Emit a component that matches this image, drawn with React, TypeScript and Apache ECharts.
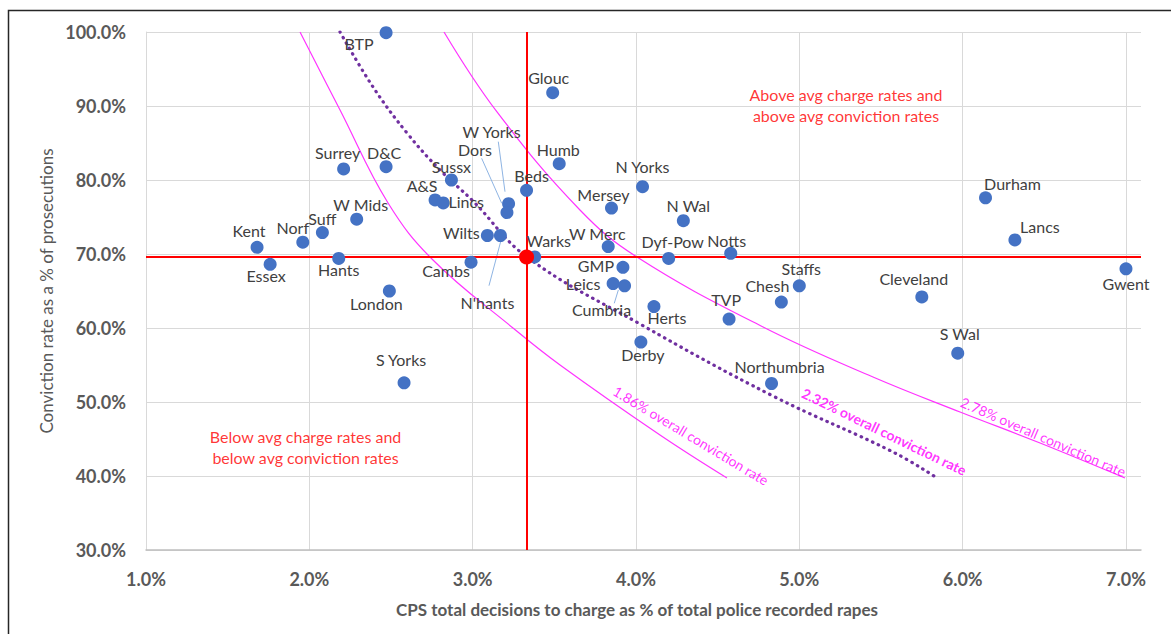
import { useEffect, useRef } from 'react';
import * as echarts from 'echarts';

// ---- Data ----
const forces = ['BTP', 'Glouc', 'Humb', 'Surrey', 'D&C', 'Sussx', 'N Yorks', 'Durham', 'Beds', 'A&S', 'Lincs', 'W Yorks', 'Dors', 'Mersey', 'N Wal', 'W Mids', 'Suff', 'Norf', 'Kent', 'Essex', 'Hants', 'London', 'Wilts', "N'hants", 'Cambs', 'Warks', 'Lancs', 'Gwent', 'Cleveland', 'S Wal', 'W Merc', 'Dyf-Pow', 'Notts', 'GMP', 'Leics', 'Cumbria', 'Herts', 'Staffs', 'Chesh', 'TVP', 'Derby', 'Northumbria', 'S Yorks'];
const chargeRate = [2.47, 3.49, 3.53, 2.21, 2.47, 2.87, 4.04, 6.14, 3.33, 2.77, 2.82, 3.22, 3.21, 3.85, 4.29, 2.29, 2.08, 1.96, 1.68, 1.76, 2.18, 2.49, 3.09, 3.17, 2.99, 3.38, 6.32, 7.0, 5.75, 5.97, 3.83, 4.20, 4.58, 3.92, 3.86, 3.93, 4.11, 5.0, 4.89, 4.57, 4.03, 4.83, 2.58];
const convictionRate = [99.9, 91.8, 82.2, 81.5, 81.8, 80.0, 79.1, 77.6, 78.6, 77.3, 76.9, 76.8, 75.6, 76.2, 74.5, 74.7, 72.9, 71.6, 70.9, 68.6, 69.4, 65.0, 72.5, 72.5, 68.9, 69.6, 71.9, 68.0, 64.2, 56.6, 71.0, 69.4, 70.1, 68.2, 66.0, 65.7, 62.9, 65.7, 63.5, 61.2, 58.1, 52.5, 52.6];

const avgCharge = 3.33;
const avgConviction = 69.6;

const curve186X = [1.943, 2.188, 2.482, 2.757, 3.247, 3.535, 4.147, 4.557];
const curve186Y = [100, 89.46, 76.89, 69.19, 60.0, 55.0, 45.54, 39.73];

const curve232X = [2.188, 2.39, 2.598, 2.8, 3.002, 3.333, 4.025, 4.839, 5.574, 5.843];
const curve232Y = [100, 92.57, 86.35, 81.35, 77.16, 69.59, 60.54, 50.81, 43.24, 39.73];

const curve278X = [2.8245, 3.149, 3.657, 4.006, 4.778, 5.451, 5.984, 6.474, 6.994];
const curve278Y = [100, 89.2, 75.95, 69.59, 60.14, 53.38, 48.65, 44.46, 39.73];

const xTicks = [1, 2, 3, 4, 5, 6, 7];
const yTicks = [30, 40, 50, 60, 70, 80, 90, 100];

const xTitle = 'CPS total decisions to charge as % of total police recorded rapes';
const yTitle = 'Conviction rate as a % of prosecutions';

// leader lines (label -> point), in data coordinates
const leaderLines: Record<string, number[][]> = {
  'W Yorks': [[3.157, 85.18], [3.198, 78.42]],
  Dors: [[3.055, 82.93], [3.178, 76.85]],
  "N'hants": [[3.174, 71.89], [3.1, 65.72]],
  Cumbria: [[3.892, 65.14], [3.867, 63.34]],
};

// ---- Layout / styling (label offsets in px from the point) ----
const labelOffsets: Record<string, number[]> = {
  BTP: [-27, 11], Glouc: [-4, -15], Humb: [-1, -14], Surrey: [-6, -16], 'D&C': [-2, -14],
  Sussx: [0, -14], 'N Yorks': [0, -20], Durham: [27, -14], Beds: [5, -15], 'A&S': [-13, -14],
  Lincs: [23, -1], 'W Yorks': [-17, -72], Dors: [-32, -63], Mersey: [-8, -14], 'N Wal': [5, -15],
  'W Mids': [4, -15], Suff: [0, -14], Norf: [-10, -15], Kent: [-8, -17], Essex: [-4, 11],
  Hants: [0, 11], London: [-13, 12], Wilts: [-26, -3], "N'hants": [-13, 67], Cambs: [-25, 8],
  Warks: [14, -16], Lancs: [25, -13], Gwent: [0, 15], Cleveland: [-8, -18], 'S Wal': [2, -20],
  'W Merc': [-11, -13], 'Dyf-Pow': [4, -17], Notts: [-4, -13], GMP: [-27, -2], Leics: [-30, 0],
  Cumbria: [-23, 24], Herts: [13, 11], Staffs: [2, -17], Chesh: [-14, -17], TVP: [-3, -20],
  Derby: [2, 12], Northumbria: [8, -17], 'S Yorks': [-3, -23],
};

const annotations = [
  { text: 'Above avg charge rates and\nabove avg conviction rates', at: [5.286, 90.07], rotate: 0, size: 16, weight: 'normal', color: '#ff0000' },
  { text: 'Below avg charge rates and\nbelow avg conviction rates', at: [1.977, 43.92], rotate: 0, size: 16, weight: 'normal', color: '#ff0000' },
  { text: '1.86% overall conviction rate', at: [4.337, 45.47], rotate: -31, size: 14, weight: 'normal', color: '#ff00ff' },
  { text: '2.32% overall conviction rate', at: [5.52, 46.0], rotate: -26, size: 14, weight: 'bold', color: '#ff00ff' },
  { text: '2.78% overall conviction rate', at: [6.494, 45.31], rotate: -23.5, size: 14, weight: 'normal', color: '#ff00ff' },
];

const FONT = 'Lato, "Noto Sans", sans-serif';

export default function App() {
  const ref = useRef<HTMLDivElement>(null);

  useEffect(() => {
    if (!ref.current) return;
    const chart = echarts.init(ref.current, undefined, { renderer: 'svg' });

    const pair = (xs: number[], ys: number[]) => xs.map((x, i) => [x, ys[i]]);

    const option: any = {
      animation: false,
      backgroundColor: '#ffffff',
      textStyle: { fontFamily: FONT },
      grid: { left: 146, right: 30, top: 32, bottom: 84 },
      xAxis: {
        type: 'value',
        min: xTicks[0],
        max: 7.092,
        interval: 1,
        axisLine: { show: true, lineStyle: { color: '#bfbfbf', width: 1.5 } },
        axisTick: { show: false },
        splitLine: { show: true, showMaxLine: false, lineStyle: { color: '#d9d9d9', width: 1 } },
        axisLabel: {
          margin: 20,
          color: '#595959',
          fontSize: 18,
          fontWeight: 'bold',
          fontFamily: FONT,
          formatter: (v: number) => (xTicks.some((t) => Math.abs(t - v) < 1e-6) ? v.toFixed(1) + '%' : ''),
        },
      },
      yAxis: {
        type: 'value',
        min: yTicks[0],
        max: yTicks[yTicks.length - 1],
        interval: 10,
        axisLine: { show: true, lineStyle: { color: '#d9d9d9', width: 1 } },
        axisTick: { show: false },
        splitLine: { show: true, lineStyle: { color: '#d9d9d9', width: 1 } },
        axisLabel: {
          margin: 20,
          color: '#595959',
          fontSize: 18,
          fontWeight: 'bold',
          fontFamily: FONT,
          formatter: (v: number) => v.toFixed(1) + '%',
        },
      },
      graphic: [
        {
          type: 'polyline',
          silent: true,
          shape: { points: [[8.5, 634], [8.5, 10.5], [1171, 10.5]] },
          style: { stroke: '#262626', lineWidth: 1.5, fill: null },
        },
        {
          type: 'text',
          x: 637,
          y: 609,
          silent: true,
          style: { text: xTitle, font: `bold 17px ${FONT}`, fill: '#595959', align: 'center', verticalAlign: 'middle', textAlign: 'center', textVerticalAlign: 'middle' },
        },
        {
          type: 'text',
          x: 46,
          y: 291,
          rotation: Math.PI / 2,
          silent: true,
          style: { text: yTitle, font: `17px ${FONT}`, fill: '#595959', align: 'center', verticalAlign: 'middle', textAlign: 'center', textVerticalAlign: 'middle' },
        },
      ],
      series: [
        {
          type: 'line',
          name: '1.86',
          data: pair(curve186X, curve186Y),
          smooth: 0.4,
          showSymbol: false,
          silent: true,
          lineStyle: { color: '#ff33ff', width: 1.2 },
          z: 2,
        },
        {
          type: 'line',
          name: '2.78',
          data: pair(curve278X, curve278Y),
          smooth: 0.4,
          showSymbol: false,
          silent: true,
          lineStyle: { color: '#ff33ff', width: 1.2 },
          z: 2,
        },
        {
          type: 'line',
          name: '2.32',
          data: pair(curve232X, curve232Y),
          smooth: 0.4,
          showSymbol: false,
          silent: true,
          lineStyle: { color: '#7030a0', width: 3.2, type: [0.5, 5.8], cap: 'round' },
          z: 2,
        },
        ...Object.keys(leaderLines).map((k) => ({
          type: 'line',
          name: 'leader-' + k,
          data: leaderLines[k],
          showSymbol: false,
          silent: true,
          lineStyle: { color: '#8eb4e3', width: 1 },
          z: 3,
        })),
        {
          type: 'scatter',
          name: 'avg lines',
          data: [],
          silent: true,
          markLine: {
            silent: true,
            symbol: ['none', 'none'],
            label: { show: false },
            lineStyle: { color: '#ff0000', width: 2, type: 'solid' },
            data: [{ xAxis: avgCharge }, { yAxis: avgConviction }],
          },
          z: 4,
        },
        {
          type: 'scatter',
          name: 'forces',
          symbol: 'circle',
          symbolSize: 13,
          itemStyle: { color: '#4472c4', opacity: 1 },
          label: {
            show: true,
            position: 'inside',
            formatter: '{b}',
            color: '#404040',
            fontSize: 16,
            fontFamily: FONT,
          },
          data: forces.map((name, i) => ({
            name,
            value: [chargeRate[i], convictionRate[i]],
            label: { offset: labelOffsets[name] || [0, -15] },
          })),
          z: 5,
        },
        {
          type: 'scatter',
          name: 'average',
          symbol: 'circle',
          symbolSize: 15,
          itemStyle: { color: '#ff0000', opacity: 1 },
          data: [[avgCharge, avgConviction]],
          z: 6,
        },
        {
          type: 'scatter',
          name: 'annotations',
          symbolSize: 0,
          silent: true,
          data: annotations.map((a) => ({
            name: a.text,
            value: a.at,
            label: {
              show: true,
              position: 'inside',
              formatter: '{b}',
              rotate: a.rotate,
              fontSize: a.size,
              fontWeight: a.weight,
              color: a.color,
              fontFamily: FONT,
              lineHeight: 21,
              align: 'center',
            },
          })),
          z: 7,
        },
      ],
    };

    chart.setOption(option);
    return () => chart.dispose();
  }, []);

  return <div ref={ref} style={{ position: 'absolute', left: 0, top: 0, width: 1171, height: 634 }} />;
}
